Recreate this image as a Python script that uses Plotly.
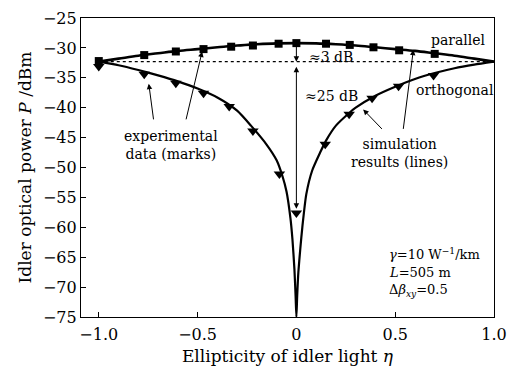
import plotly.graph_objects as go

# ---- data ----
par_x = [-1.0, -0.77, -0.61, -0.47, -0.33, -0.22, -0.09, 0.0, 0.15, 0.27, 0.39, 0.52, 0.70]
par_y = [-32.2, -31.2, -30.6, -30.2, -29.8, -29.6, -29.3, -29.2, -29.3, -29.5, -29.9, -30.4, -31.0]

orth_x = [-1.0, -0.77, -0.61, -0.47, -0.34, -0.22, -0.086, 0.0, 0.146, 0.267, 0.383, 0.517, 0.694]
orth_y = [-33.1, -34.4, -35.9, -37.6, -39.8, -43.9, -51.1, -57.6, -46.1, -41.1, -38.4, -36.4, -34.6]

sim_par_x = [-1.0, -0.9, -0.8, -0.7, -0.6, -0.5, -0.4, -0.3, -0.2, -0.1, 0.0,
             0.1, 0.2, 0.3, 0.4, 0.5, 0.6, 0.7, 0.8, 0.9, 1.0]
sim_par_y = [-32.3, -31.8, -31.3, -30.9, -30.5, -30.2, -29.9, -29.6, -29.4, -29.25, -29.2,
             -29.25, -29.4, -29.6, -29.9, -30.2, -30.5, -30.9, -31.3, -31.8, -32.3]

sim_orth_x = [-1.0, -0.9, -0.8, -0.7, -0.6, -0.5, -0.4, -0.3, -0.23, -0.15, -0.1, -0.07,
              -0.05, -0.03, -0.02, -0.01, -0.004, 0.0, 0.004, 0.01, 0.02, 0.03, 0.05,
              0.08, 0.12, 0.15, 0.2, 0.27, 0.3, 0.4, 0.5, 0.6, 0.7, 0.8, 0.9, 1.0]
sim_orth_y = [-32.3, -32.9, -33.7, -34.6, -35.6, -36.8, -38.3, -40.5, -43.0, -46.2, -48.8, -51.5,
              -54.0, -58.5, -62.0, -67.0, -71.5, -75.0, -71.5, -67.5, -63.5, -60.0, -54.5,
              -50.5, -47.5, -45.5, -43.0, -40.8, -40.0, -38.0, -36.5, -35.2, -34.2, -33.4, -32.8, -32.3]

ref_x = [-1.0, 1.0]
ref_y = [-32.3, -32.3]

y_ticks = [-25, -30, -35, -40, -45, -50, -55, -60, -65, -70, -75]
x_ticks = [-1.0, -0.5, 0, 0.5, 1.0]
x_tick_text = ["\u22121.0", "\u22120.5", "0", "0.5", "1.0"]

FONT = "DejaVu Serif"

fig = go.Figure()
fig.add_trace(go.Scatter(x=ref_x, y=ref_y, mode="lines",
                         line=dict(color="black", width=1.2, dash="dot"), showlegend=False))
fig.add_trace(go.Scatter(x=sim_par_x, y=sim_par_y, mode="lines", line_shape="spline",
                         line=dict(color="black", width=2.6), showlegend=False))
fig.add_trace(go.Scatter(x=sim_orth_x, y=sim_orth_y, mode="lines", line_shape="spline",
                         line=dict(color="black", width=2.2, smoothing=0.6), showlegend=False))
fig.add_trace(go.Scatter(x=par_x, y=par_y, mode="markers",
                         marker=dict(symbol="square", size=8, color="black"), showlegend=False))
fig.add_trace(go.Scatter(x=orth_x, y=orth_y, mode="markers",
                         marker=dict(symbol="triangle-down", size=10, color="black"), showlegend=False))

anns = []
def arrow(x, y, ax, ay, side="end"):
    anns.append(dict(x=x, y=y, ax=ax, ay=ay, xref="x", yref="y", axref="x", ayref="y",
                     text="", showarrow=True, arrowhead=2, arrowsize=1.1, arrowwidth=1,
                     arrowcolor="black", arrowside=side))

arrow(-0.747, -36.0, -0.722, -42.2)
arrow(-0.477, -30.6, -0.56, -42.2)
arrow(0.338, -40.3, 0.44, -43.8)
arrow(0.592, -30.3, 0.54, -43.8)
arrow(0.0, -32.3, 0.0, -29.5)
arrow(0.0, -56.9, 0.0, -32.9, side="end+start")

def txt(x, y, t, xanchor="center", size=14):
    anns.append(dict(x=x, y=y, xref="x", yref="y", text=t, showarrow=False,
                     xanchor=xanchor, yanchor="middle",
                     font=dict(family=FONT, size=size, color="black")))

txt(0.818, -28.7, "parallel")
txt(0.055, -31.5, "\u22483 dB", xanchor="left")
txt(0.035, -38.1, "\u224825 dB", xanchor="left")
txt(0.596, -37.0, "orthogonal", xanchor="left")
txt(-0.636, -46.3, "experimental<br>data (marks)")
txt(0.52, -47.6, "simulation<br>results (lines)")
txt(0.46, -64.4, "<i>\u03b3</i>=10 W<sup>\u22121</sup>/km", xanchor="left", size=13)
txt(0.46, -67.5, "<i>L</i>=505 m", xanchor="left", size=13)
txt(0.46, -70.6, "\u0394<i>\u03b2</i><sub><i>xy</i></sub>=0.5", xanchor="left", size=13)

fig.update_layout(
    width=526, height=373,
    margin=dict(l=81, r=32, t=9, b=56),
    paper_bgcolor="white", plot_bgcolor="white",
    font=dict(family=FONT, size=16, color="black"),
    annotations=anns,
    xaxis=dict(range=[-1.09, 1.0], tickvals=x_ticks, ticktext=x_tick_text,
               ticks="inside", ticklen=5, tickwidth=1, tickcolor="black",
               ticklabelstandoff=3, ticklabeloverflow="allow",
               showline=True, linecolor="black", linewidth=1.2, mirror=True,
               showgrid=False, zeroline=False,
               title=dict(text="Ellipticity of idler light <i>\u03b7</i>", standoff=6,
                          font=dict(family=FONT, size=17))),
    yaxis=dict(range=[-75, -25], tickvals=y_ticks,
               ticks="inside", ticklen=5, tickwidth=1, tickcolor="black",
               ticklabeloverflow="allow",
               showline=True, linecolor="black", linewidth=1.2, mirror=True,
               showgrid=False, zeroline=False,
               title=dict(text="Idler optical power <i>P</i> /dBm", standoff=6,
                          font=dict(family=FONT, size=17))),
)

fig.write_html("out.html")
